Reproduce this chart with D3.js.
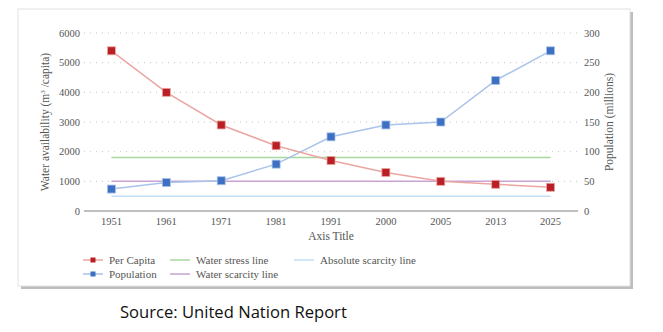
<!DOCTYPE html>
<html>
<head>
<meta charset="utf-8">
<script src="https://cdn.jsdelivr.net/npm/d3@7"></script>
<style>
  body { margin: 0; background: #fff; }
  text { font-family: "Liberation Serif", "DejaVu Serif", serif; fill: #555; }
  text.source { font-family: "Open Sans", "Noto Sans", sans-serif; fill: #111; }
</style>
</head>
<body>
<svg id="chart" width="663" height="332"></svg>
<script>
const years = ["1951", "1961", "1971", "1981", "1991", "2000", "2005", "2013", "2025"];
const perCapita = [5400, 4000, 2900, 2200, 1700, 1300, 1000, 900, 800];
const population = [37, 48, 51, 79, 125, 145, 150, 220, 270];
const waterStress = 1800;
const waterScarcity = 1000;
const absoluteScarcity = 500;
const leftTicks = [0, 1000, 2000, 3000, 4000, 5000, 6000];
const rightTicks = [0, 50, 100, 150, 200, 250, 300];

const MARGIN = { left: 84, right: 578, top: 33, bottom: 211 };

const svg = d3.select("#chart");

// frame with shadow
svg.append("rect").attr("x", 21).attr("y", 12).attr("width", 612).attr("height", 277).attr("fill", "#bdbdbd");
svg.append("rect").attr("x", 18).attr("y", 9).attr("width", 612).attr("height", 277)
  .attr("fill", "#fff").attr("stroke", "#e2e2e2").attr("stroke-width", 1);

const x = d3.scaleBand().domain(years).range([MARGIN.left, MARGIN.right]);
const cx = (d) => x(d) + x.bandwidth() / 2;
const yL = d3.scaleLinear().domain([0, 6000]).range([MARGIN.bottom, MARGIN.top]);
const yR = d3.scaleLinear().domain([0, 300]).range([MARGIN.bottom, MARGIN.top]);

// grid
svg.append("g")
  .selectAll("line")
  .data(leftTicks.slice(1))
  .join("line")
  .attr("x1", MARGIN.left)
  .attr("x2", MARGIN.right)
  .attr("y1", (d) => yL(d))
  .attr("y2", (d) => yL(d))
  .attr("stroke", "#c4c4c4")
  .attr("stroke-width", 1)
  .attr("stroke-dasharray", "1,5");

// left axis labels
svg.append("g")
  .selectAll("text")
  .data(leftTicks)
  .join("text")
  .attr("x", 80)
  .attr("y", (d) => yL(d) + 3.5)
  .attr("text-anchor", "end")
  .attr("font-size", 10.5)
  .text((d) => d);

// right axis labels
svg.append("g")
  .selectAll("text")
  .data(rightTicks)
  .join("text")
  .attr("x", 584)
  .attr("y", (d) => yR(d) + 3.5)
  .attr("font-size", 10.5)
  .text((d) => d);

// x axis line
svg.append("line")
  .attr("x1", MARGIN.left).attr("x2", MARGIN.right)
  .attr("y1", yL(0)).attr("y2", yL(0))
  .attr("stroke", "#aaa").attr("stroke-width", 1.3);

svg.append("g")
  .selectAll("text")
  .data(years)
  .join("text")
  .attr("x", (d) => cx(d))
  .attr("y", 225)
  .attr("text-anchor", "middle")
  .attr("font-size", 10.5)
  .text((d) => d);

svg.append("text")
  .attr("x", (MARGIN.left + MARGIN.right) / 2)
  .attr("y", 240)
  .attr("text-anchor", "middle")
  .attr("font-size", 11.5)
  .text("Axis Title");

// axis titles
const lt = svg.append("text")
  .attr("transform", `translate(49, ${(MARGIN.top + MARGIN.bottom) / 2}) rotate(-90)`)
  .attr("text-anchor", "middle")
  .attr("font-size", 11.5);
lt.append("tspan").text("Water availability (m");
lt.append("tspan").attr("font-size", 7).attr("dy", -4).text("3");
lt.append("tspan").attr("dy", 4).text(" /capita)");

svg.append("text")
  .attr("transform", `translate(613, ${(MARGIN.top + MARGIN.bottom) / 2}) rotate(-90)`)
  .attr("text-anchor", "middle")
  .attr("font-size", 11.5)
  .text("Population (millions)");

// threshold lines
const x0 = cx(years[0]);
const x1 = cx(years[years.length - 1]);
[
  [waterStress, "#a9d7a0"],
  [waterScarcity, "#c9a3d3"],
  [absoluteScarcity, "#bfe0f6"],
].forEach(([v, c]) => {
  svg.append("line")
    .attr("x1", x0).attr("x2", x1)
    .attr("y1", yL(v)).attr("y2", yL(v))
    .attr("stroke", c).attr("stroke-width", 1.5);
});

// series
const lineL = d3.line().x((d, i) => cx(years[i])).y((d) => yL(d));
const lineR = d3.line().x((d, i) => cx(years[i])).y((d) => yR(d));

svg.append("path").datum(population).attr("d", lineR)
  .attr("fill", "none").attr("stroke", "#a9c3ea").attr("stroke-width", 1.5);
svg.append("path").datum(perCapita).attr("d", lineL)
  .attr("fill", "none").attr("stroke", "#eba6a1").attr("stroke-width", 1.5);

const S = 8;
svg.append("g")
  .selectAll("rect")
  .data(population)
  .join("rect")
  .attr("x", (d, i) => cx(years[i]) - S / 2)
  .attr("y", (d) => yR(d) - S / 2)
  .attr("width", S).attr("height", S)
  .attr("fill", "#3d6fc2").attr("stroke", "#a9c3ea").attr("stroke-width", 0.8);

svg.append("g")
  .selectAll("rect")
  .data(perCapita)
  .join("rect")
  .attr("x", (d, i) => cx(years[i]) - S / 2)
  .attr("y", (d) => yL(d) - S / 2)
  .attr("width", S).attr("height", S)
  .attr("fill", "#b92025").attr("stroke", "#eba6a1").attr("stroke-width", 0.8);

// legend
const legend = [
  { label: "Per Capita", line: "#eba6a1", marker: "#b92025", x: 83, y: 260 },
  { label: "Population", line: "#a9c3ea", marker: "#3d6fc2", x: 83, y: 274 },
  { label: "Water stress line", line: "#a9d7a0", x: 170, y: 260 },
  { label: "Water scarcity line", line: "#c9a3d3", x: 170, y: 274 },
  { label: "Absolute scarcity line", line: "#bfe0f6", x: 294, y: 260 },
];
const lg = svg.append("g").selectAll("g").data(legend).join("g")
  .attr("transform", (d) => `translate(${d.x}, ${d.y})`);
lg.append("line").attr("x1", 0).attr("x2", 20).attr("y1", 0).attr("y2", 0)
  .attr("stroke", (d) => d.line).attr("stroke-width", 1.5);
lg.filter((d) => d.marker).append("rect")
  .attr("x", 7.5).attr("y", -2.5).attr("width", 5).attr("height", 5)
  .attr("fill", (d) => d.marker);
lg.append("text").attr("x", 26).attr("y", 3.5).attr("font-size", 11).text((d) => d.label);

// source
svg.append("text")
  .attr("class", "source")
  .attr("x", 120).attr("y", 318)
  .attr("font-size", 16.6)
  .text("Source: United Nation Report");
</script>
</body>
</html>
